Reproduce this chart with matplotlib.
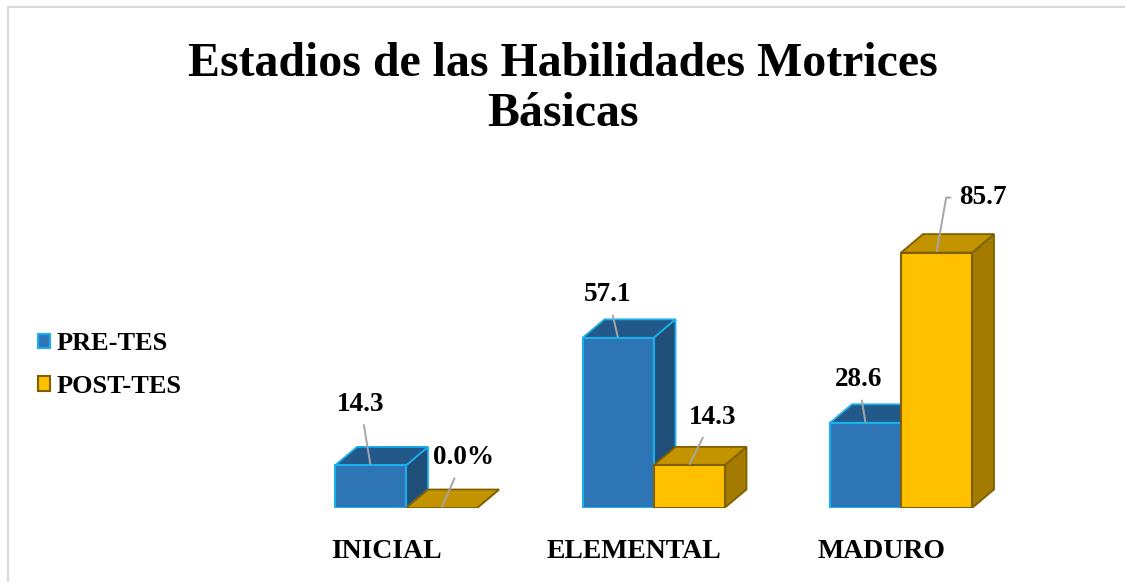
import numpy as np
import matplotlib
matplotlib.use("Agg")
import matplotlib.pyplot as plt
from matplotlib.patches import Polygon, Patch, Rectangle

categories = ["INICIAL", "ELEMENTAL", "MADURO"]
pre_tes = [14.3, 57.1, 28.6]
post_tes = [0.0, 14.3, 85.7]
pre_labels = ["14.3", "57.1", "28.6"]
post_labels = ["0.0%", "14.3", "85.7"]
series_names = ["PRE-TES", "POST-TES"]

# label offsets (pixels, y up) from front-top centre of each bar
pre_offsets = [(-10, 61), (-10, 43), (-7, 43)]
post_offsets = [(22, 50), (24, 48), (46, 55)]
post_connect = ["arc3", "arc3", "angle,angleA=0,angleB=80,rad=0"]

plt.rcParams['font.family'] = ['Liberation Serif', 'DejaVu Serif']

W, H = 1125, 582
fig = plt.figure(figsize=(W / 100, H / 100), dpi=100)

# axes: baseline at y=508px, 2.98 px per unit, category spacing 247.5px
ax = fig.add_axes([282.25 / W, 74 / H, 742.5 / W, 298 / H])
ax.set_xlim(-0.5, 2.5)
ax.set_ylim(0, 100)
ax.axis('off')

bw = 71 / 247.5          # bar width in category units
dx = 22 / 247.5          # depth offset x
dy = 18.5 / 2.98         # depth offset y

styles = [
    dict(front="#2E75B6", top="#23598A", side="#1F4E79", edge="#1AB0EA"),
    dict(front="#FFC000", top="#C39300", side="#A37B00", edge="#7F6000"),
]


def draw_bar(x0, h, st, z):
    x1 = x0 + bw
    side = [(x1, 0), (x1 + dx, dy), (x1 + dx, h + dy), (x1, h)]
    top = [(x0, h), (x0 + dx, h + dy), (x1 + dx, h + dy), (x1, h)]
    ax.add_patch(Polygon(side, closed=True, fc=st["side"], ec=st["edge"], lw=1.3, zorder=z))
    ax.add_patch(Polygon(top, closed=True, fc=st["top"], ec=st["edge"], lw=1.3, zorder=z + 0.1))
    if h > 0:
        ax.add_patch(Rectangle((x0, 0), bw, h, fc=st["front"], ec=st["edge"], lw=1.5, zorder=z + 0.2))


x = np.arange(len(categories))
for i in x:
    draw_bar(i - bw, pre_tes[i], styles[0], 2)
    draw_bar(i, post_tes[i], styles[1], 3)


def label(txt, xy, off, conn="arc3"):
    ax.annotate(txt, xy=xy, xytext=off, zorder=6, fontsize=19.5,
                fontweight='bold', ha='center', va='center',
                textcoords='offset pixels', annotation_clip=False,
                arrowprops=dict(arrowstyle='-', color='#A6A6A6', lw=1.4,
                                shrinkA=4, shrinkB=1, connectionstyle=conn))


for i in x:
    label(pre_labels[i], (i - bw / 2, pre_tes[i]), pre_offsets[i])
    label(post_labels[i], (i + bw / 2, post_tes[i]), post_offsets[i],
          post_connect[i])

for i in x:
    ax.annotate(categories[i], xy=(i - 0.08, 0), xytext=(0, -44),
                textcoords='offset pixels', ha='center', va='center',
                fontsize=20, fontweight='bold', annotation_clip=False)

fig.text(0.5, 1 - 89 / H, "Estadios de las Habilidades Motrices\nBásicas",
         ha='center', va='center', fontsize=34.5, fontweight='bold',
         linespacing=1.2)

handles = [Patch(fc=styles[k]["front"], ec=styles[k]["edge"], lw=1.5)
           for k in range(2)]
fig.legend(handles, series_names, loc='center left',
           bbox_to_anchor=(14 / W, 1 - 365 / H), frameon=False,
           prop=dict(size=19, weight='bold'), handlelength=0.45,
           handleheight=0.45, handletextpad=0.25, labelspacing=0.75)

# outer chart frame (cut at the right and bottom)
fig.add_artist(Rectangle((8 / W, -0.1), 1.2, 1 - 7 / H + 0.1,
                         transform=fig.transFigure, fill=False,
                         ec='#D9D9D9', lw=1.5))

fig.savefig("out.png", dpi=100)
